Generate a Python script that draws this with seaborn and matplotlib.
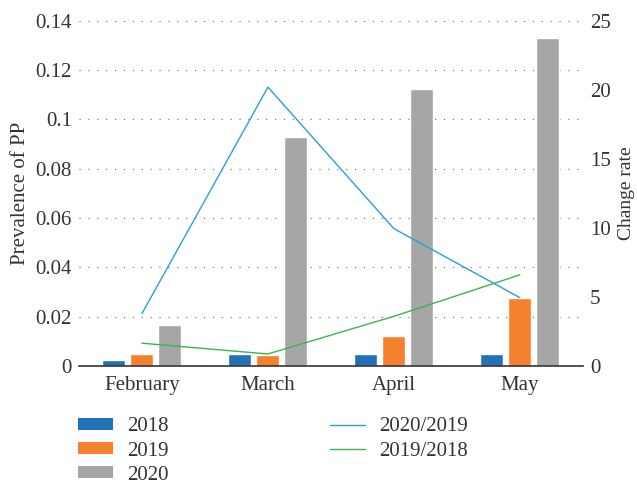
import numpy as np
import pandas as pd
import matplotlib
matplotlib.use('Agg')
import matplotlib.pyplot as plt
import seaborn as sns
from matplotlib.patches import Patch
from matplotlib.lines import Line2D

# Data
months = ['February', 'March', 'April', 'May']
years = ['2018', '2019', '2020']
prev_2018 = [0.0024, 0.0050, 0.0050, 0.0050]
prev_2019 = [0.0049, 0.0045, 0.0121, 0.0275]
prev_2020 = [0.0166, 0.0927, 0.1125, 0.1332]
rate_20_19 = [3.8, 20.2, 9.95, 4.95]
rate_19_18 = [1.65, 0.87, 3.6, 6.6]

bar_colors = ['#2171B9', '#F5812F', '#A6A6A6']
line_colors = {'2020/2019': '#2A9FDB', '2019/2018': '#3DB54A'}

sns.set_style('white')
plt.rcParams['font.family'] = ['Liberation Serif', 'DejaVu Serif']
text_color = '#333333'
fs = 15

df_bars = pd.DataFrame({
    'Month': months * 3,
    'Year': sum([[y] * len(months) for y in years], []),
    'Prevalence': prev_2018 + prev_2019 + prev_2020,
})
df_lines = pd.DataFrame({
    'pos': list(np.arange(len(months))) * 2,
    'Series': ['2020/2019'] * len(months) + ['2019/2018'] * len(months),
    'Rate': rate_20_19 + rate_19_18,
})

fig = plt.figure(figsize=(6.37, 4.82), dpi=100)
ax = fig.add_axes([0.124, 0.2407, 0.791, 0.716])

sns.barplot(data=df_bars, x='Month', y='Prevalence', hue='Year', order=months,
            hue_order=years, palette=bar_colors, width=0.667, gap=0.18,
            saturation=1, legend=False, ax=ax)
ax.set_xlim(-0.5, 3.5)
ax.set_ylim(0, 0.14)
ticks = np.round(np.arange(0, 0.141, 0.02), 2)
ax.set_yticks(ticks)
ax.set_yticklabels([f'{v:g}' for v in ticks])
ax.yaxis.grid(True, color='#666666', linestyle=(0, (1, 7)), linewidth=0.8)
ax.set_axisbelow(True)
for s in ['top', 'left', 'right']:
    ax.spines[s].set_visible(False)
ax.spines['bottom'].set_color('#333333')
ax.spines['bottom'].set_linewidth(1.2)
ax.tick_params(axis='both', length=0, labelsize=fs, colors=text_color)
ax.tick_params(axis='x', pad=7)
ax.tick_params(axis='y', pad=5)
ax.set_xlabel('')
ax.set_ylabel('Prevalence of PP', fontsize=fs, color=text_color, labelpad=4)

ax2 = ax.twinx()
sns.lineplot(data=df_lines, x='pos', y='Rate', hue='Series',
             palette=line_colors, linewidth=1.0, legend=False, ax=ax2)
ax2.set_ylim(0, 25)
ax2.set_yticks([0, 5, 10, 15, 20, 25])
ax2.set_xlim(-0.5, 3.5)
for s in ['top', 'left', 'right', 'bottom']:
    ax2.spines[s].set_visible(False)
ax2.tick_params(axis='y', length=0, labelsize=fs, colors=text_color, pad=5)
ax2.set_xlabel('')
ax2.set_ylabel('Change rate', fontsize=14, color=text_color, labelpad=5)

# Legends below the plot
bar_handles = [Patch(facecolor=c, edgecolor='none') for c in bar_colors]
fig.legend(bar_handles, years, loc='upper left',
           bbox_to_anchor=(0.093, 0.173), frameon=False,
           fontsize=fs, handlelength=1.68, handleheight=0.5,
           handletextpad=0.67, labelspacing=0.25, labelcolor=text_color)
line_handles = [Line2D([], [], color=c, linewidth=1.0) for c in line_colors.values()]
fig.legend(line_handles, list(line_colors.keys()), loc='upper left',
           bbox_to_anchor=(0.489, 0.173), frameon=False, fontsize=fs,
           handlelength=1.68, handleheight=0.5, handletextpad=0.67,
           labelspacing=0.25, labelcolor=text_color)

fig.savefig('out.png', dpi=100)
